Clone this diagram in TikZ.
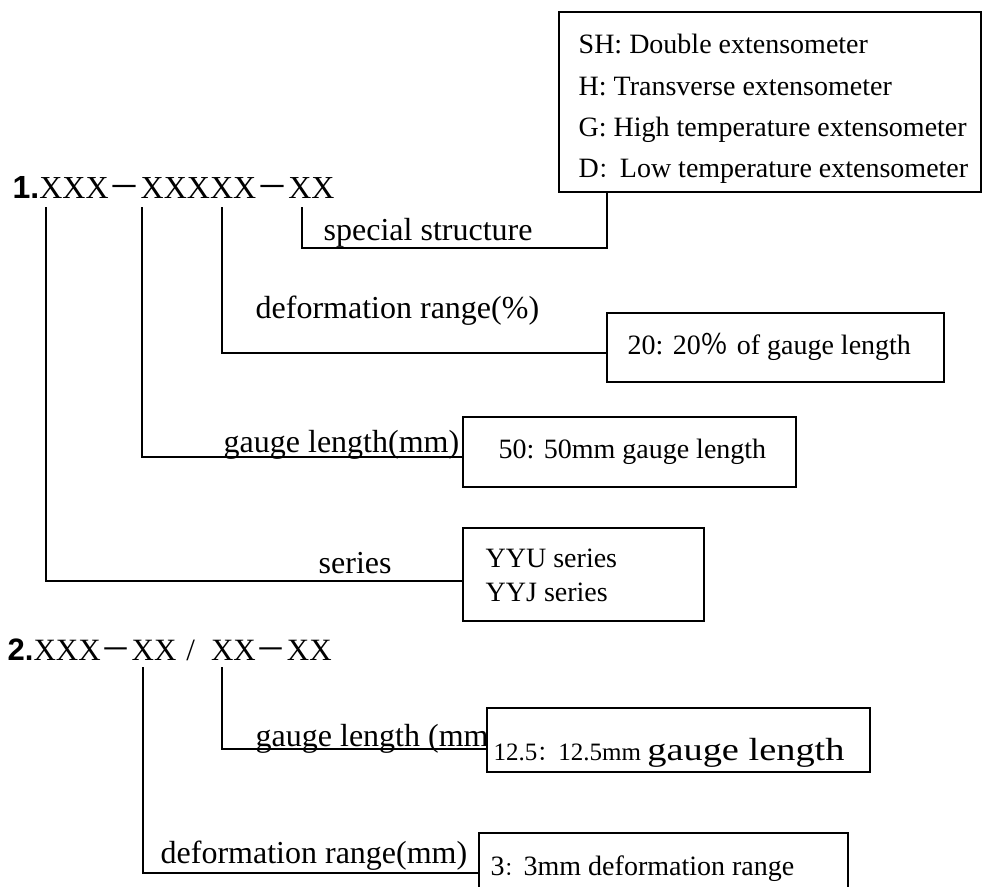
\documentclass[tikz,border=0pt]{standalone}
\usepackage{graphicx}
\usepackage{fontspec}
\setmainfont{Liberation Serif}
\newfontfamily\hdfont{Liberation Sans}
\newfontfamily\cjk{Noto Sans CJK SC}
\newcommand{\fsz}[1]{\fontsize{#1}{#1}\selectfont}
\begin{document}
\begin{tikzpicture}[x=1pt,y=-1pt,line width=1.4pt,
  txt/.style={inner sep=0pt,anchor=base west},
  lbl/.style={txt,font=\fsz{32}},
  btxt/.style={txt,font=\fsz{28}},
  ttl/.style={txt},
  box/.style={draw,line width=1.6pt,inner sep=0pt,anchor=north west},
  conn/.style={line width=1.4pt}]
\useasboundingbox (0,0) rectangle (982,886);
\clip (0,0) rectangle (982,886);

% titles
\node[ttl,font=\fsz{32}] (t1) at (12,198) {{\hdfont\bfseries 1.}XXX{\cjk －}XXXXX{\cjk －}XX};
\node[ttl,font=\fsz{31}] (t2) at (7,660) {{\hdfont\bfseries 2.}XXX{\cjk －}XX\hspace{10pt}/\hspace{16pt}XX{\cjk －}XX};

% boxes
\node[box,minimum width=422pt,minimum height=180pt] (sbox) at (558,11) {};
\node[box,minimum width=337pt,minimum height=69pt] (pbox) at (606,312) {};
\node[box,minimum width=333pt,minimum height=70pt] (gbox) at (462,416) {};
\node[box,minimum width=241pt,minimum height=93pt] (ybox) at (462,527) {};
\node[box,minimum width=383pt,minimum height=64pt] (hbox) at (486,707) {};
\node[box,minimum width=369pt,minimum height=70pt] (dbox) at (478,832) {};

% box texts
\node[btxt] (s1) at (578,53) {SH: Double extensometer};
\node[btxt] (s2) at (578,95) {H: Transverse extensometer};
\node[btxt] (s3) at (578,136) {G: High temperature extensometer};
\node[btxt] (s4) at (578,177) {D{\cjk\fsz{21}：}Low temperature extensometer};
\node[btxt] (pt) at (627,354) {20: 20{\cjk ％}\hspace{8pt}of gauge length};
\node[btxt] (gt) at (498,458) {50: 50mm gauge length};
\node[btxt] (y1) at (485,567) {YYU series};
\node[btxt] (y2) at (485,601) {YYJ series};
\node[txt,font=\fsz{25}] (ht) at (493,760) {12.5{\cjk\fsz{21}：}12.5mm {\fsz{32}\scalebox{1.2}[1]{gauge length}}};
\node[btxt] (dt) at (490,875) {3{\cjk\fsz{19}：}3mm deformation range};

% labels
\node[lbl] (l1) at (323,240) {special structure};
\node[lbl] (l2) at (255,318) {deformation range(\%)};
\node[lbl] (l3) at (223,452) {gauge length(mm)};
\node[lbl] (l4) at (318,573) {series};
\node[lbl] (l5) at (255,746) {gauge length (mm};
\node[lbl] (l6) at (160,863) {deformation range(mm)};

% connector coordinates
\coordinate (a0) at (302,207);
\coordinate (a1) at (607,248);
\coordinate (b0) at (222,207);
\coordinate (b1) at (606,353);
\coordinate (c0) at (142,207);
\coordinate (c1) at (462,457);
\coordinate (d0) at (46,207);
\coordinate (d1) at (462,581);
\coordinate (e0) at (222,667);
\coordinate (e1) at (486,749);
\coordinate (f0) at (143,667);
\coordinate (f1) at (478,873);

\draw[conn] (a0) |- (a1) -- (a1 |- sbox.south);
\draw[conn] (b0) |- (b1);
\draw[conn] (c0) |- (c1);
\draw[conn] (d0) |- (d1);
\draw[conn] (e0) |- (e1);
\draw[conn] (f0) |- (f1);
\end{tikzpicture}
\end{document}
